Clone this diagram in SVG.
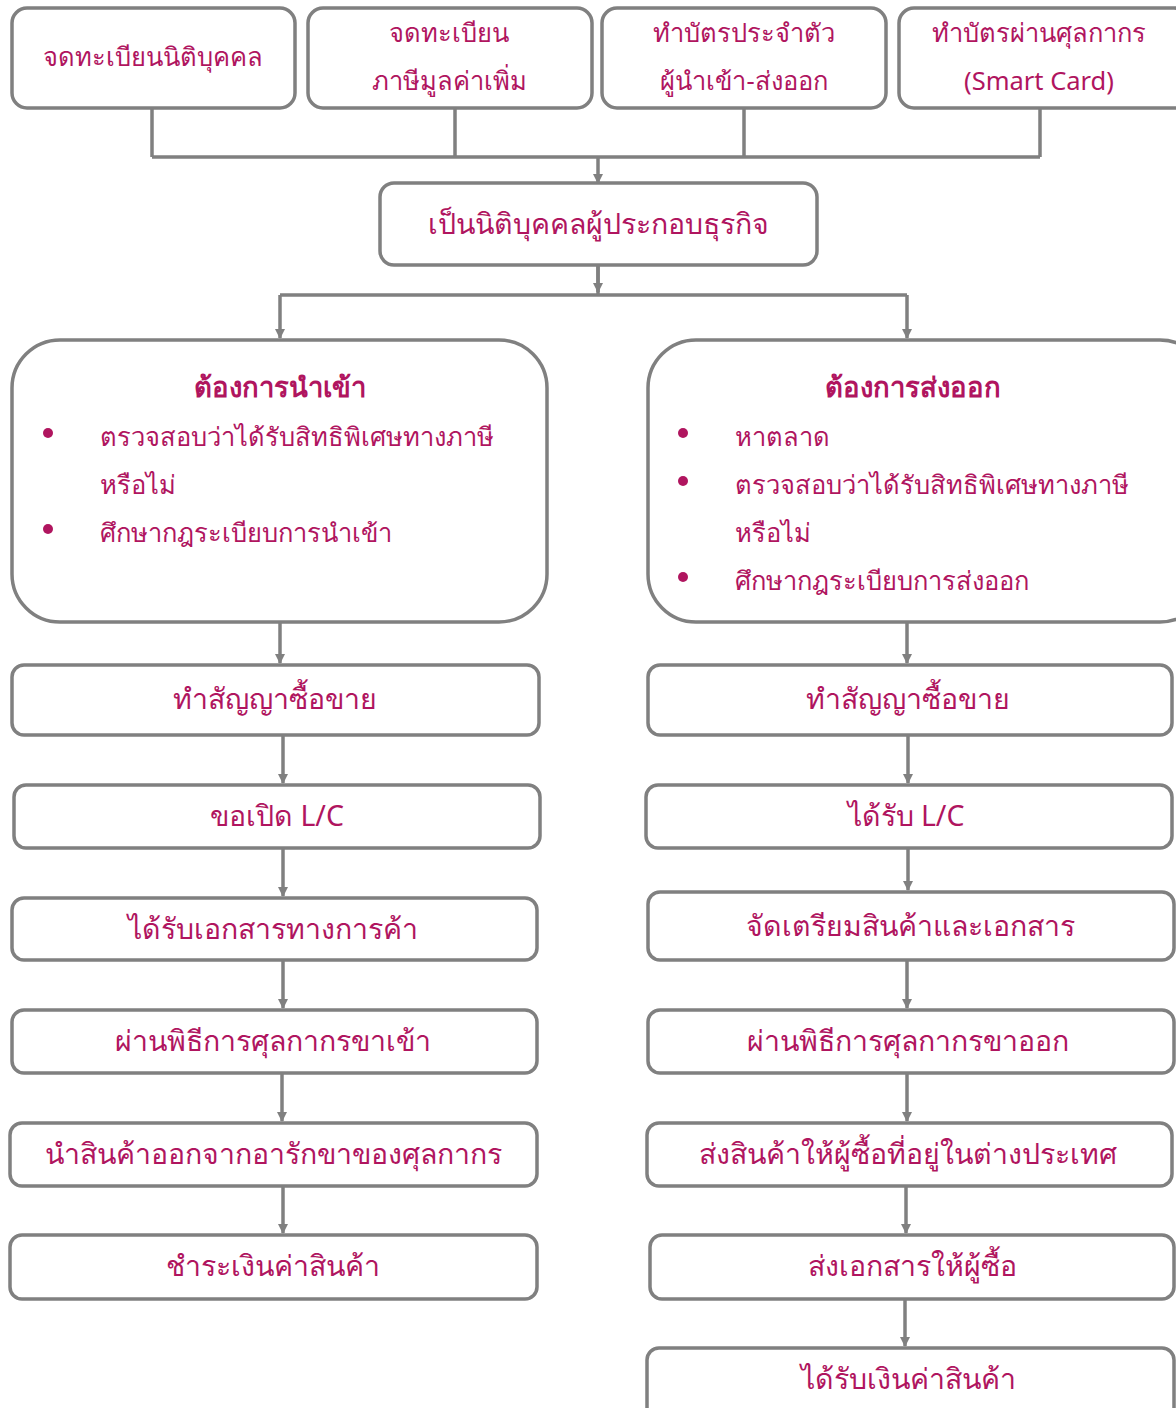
<svg xmlns="http://www.w3.org/2000/svg" width="1176" height="1408" viewBox="0 0 1176 1408">
<defs>
<marker id="ah" viewBox="0 0 10 10" refX="9" refY="5" markerWidth="10" markerHeight="10" markerUnits="userSpaceOnUse" orient="auto">
<path d="M0,0 L10,5 L0,10 Z" fill="#808080"/>
</marker>
<style>
.box{fill:#fff;stroke:#808080;stroke-width:3.5}
.t{font-family:"Noto Sans","Liberation Sans",sans-serif;font-size:28.5px;fill:#B0155F;text-anchor:middle}
.s{font-size:25.5px}
.l{font-family:"Noto Sans","Liberation Sans",sans-serif;font-size:25.5px;fill:#B0155F}
.h{font-family:"Noto Sans","Liberation Sans",sans-serif;font-size:27.5px;font-weight:bold;fill:#B0155F;text-anchor:middle}
.c{fill:none;stroke:#808080;stroke-width:3.5}
.a{fill:none;stroke:#808080;stroke-width:3.5;marker-end:url(#ah)}
.dot{fill:#B0155F}
</style>
</defs>
<rect width="1176" height="1408" fill="#fff"/>
<g id="connectors">
<path class="c" d="M152,108 V157 M455,108 V157 M744,108 V157 M1040,108 V157 M152,157 H1040"/>
<path class="a" d="M598,157 V183"/>
<path class="c" d="M598,265 V295 M280,295 H907"/>
<path class="a" d="M598,265 V292"/>
<path class="a" d="M280,295 V338"/>
<path class="a" d="M907,295 V338"/>
<path class="a" d="M280,622 V663"/>
<path class="a" d="M907,622 V663"/>
<path class="a" d="M283,735 V783"/>
<path class="a" d="M283,848 V896"/>
<path class="a" d="M283,960 V1008"/>
<path class="a" d="M282,1073 V1121"/>
<path class="a" d="M283,1186 V1233"/>
<path class="a" d="M908,735 V783"/>
<path class="a" d="M908,848 V890"/>
<path class="a" d="M907,960 V1008"/>
<path class="a" d="M907,1073 V1121"/>
<path class="a" d="M906,1186 V1233"/>
<path class="a" d="M905,1299 V1346"/>
</g>
<g id="n1"><rect class="box" x="12" y="8" width="283" height="100" rx="15"/><text class="t s" x="153" y="66">จดทะเบียนนิติบุคคล</text></g>
<g id="n2"><rect class="box" x="308" y="8" width="284" height="100" rx="15"/><text class="t s" x="449" y="42">จดทะเบียน</text><text class="t s" x="449" y="90">ภาษีมูลค่าเพิ่ม</text></g>
<g id="n3"><rect class="box" x="602" y="8" width="284" height="100" rx="15"/><text class="t s" x="744" y="42">ทำบัตรประจำตัว</text><text class="t s" x="744" y="90">ผู้นำเข้า-ส่งออก</text></g>
<g id="n4"><rect class="box" x="899" y="8" width="290" height="100" rx="15"/><text class="t s" x="1039" y="42">ทำบัตรผ่านศุลกากร</text><text class="t s" x="1039" y="90">(Smart Card)</text></g>
<g id="n5"><rect class="box" x="380" y="183" width="437" height="82" rx="14"/><text class="t" x="598" y="234">เป็นนิติบุคคลผู้ประกอบธุรกิจ</text></g>
<g id="n6"><rect class="box" x="12" y="340" width="535" height="282" rx="48"/>
<text class="h" x="280" y="397">ต้องการนำเข้า</text>
<circle class="dot" cx="48" cy="433" r="5"/><text class="l" x="100" y="446">ตรวจสอบว่าได้รับสิทธิพิเศษทางภาษี</text>
<text class="l" x="100" y="494">หรือไม่</text>
<circle class="dot" cx="48" cy="529" r="5"/><text class="l" x="100" y="542">ศึกษากฎระเบียบการนำเข้า</text></g>
<g id="n7"><rect class="box" x="648" y="340" width="560" height="282" rx="48"/>
<text class="h" x="913" y="397">ต้องการส่งออก</text>
<circle class="dot" cx="683" cy="433" r="5"/><text class="l" x="735" y="446">หาตลาด</text>
<circle class="dot" cx="683" cy="481" r="5"/><text class="l" x="735" y="494">ตรวจสอบว่าได้รับสิทธิพิเศษทางภาษี</text>
<text class="l" x="735" y="542">หรือไม่</text>
<circle class="dot" cx="683" cy="577" r="5"/><text class="l" x="735" y="590">ศึกษากฎระเบียบการส่งออก</text></g>
<g id="i1"><rect class="box" x="12" y="665" width="527" height="70" rx="12"/><text class="t" x="275" y="709">ทำสัญญาซื้อขาย</text></g>
<g id="i2"><rect class="box" x="14" y="785" width="526" height="63" rx="12"/><text class="t" x="277" y="826">ขอเปิด L/C</text></g>
<g id="i3"><rect class="box" x="12" y="898" width="525" height="62" rx="12"/><text class="t" x="273" y="939">ได้รับเอกสารทางการค้า</text></g>
<g id="i4"><rect class="box" x="12" y="1010" width="525" height="63" rx="12"/><text class="t" x="273" y="1051">ผ่านพิธีการศุลกากรขาเข้า</text></g>
<g id="i5"><rect class="box" x="10" y="1123" width="527" height="63" rx="12"/><text class="t" x="273" y="1164">นำสินค้าออกจากอารักขาของศุลกากร</text></g>
<g id="i6"><rect class="box" x="10" y="1235" width="527" height="64" rx="12"/><text class="t" x="273" y="1276">ชำระเงินค่าสินค้า</text></g>
<g id="e1"><rect class="box" x="648" y="665" width="524" height="70" rx="12"/><text class="t" x="908" y="709">ทำสัญญาซื้อขาย</text></g>
<g id="e2"><rect class="box" x="646" y="785" width="526" height="63" rx="12"/><text class="t" x="906" y="826">ได้รับ L/C</text></g>
<g id="e3"><rect class="box" x="648" y="892" width="526" height="68" rx="12"/><text class="t" x="910" y="936">จัดเตรียมสินค้าและเอกสาร</text></g>
<g id="e4"><rect class="box" x="648" y="1010" width="526" height="63" rx="12"/><text class="t" x="908" y="1051">ผ่านพิธีการศุลกากรขาออก</text></g>
<g id="e5"><rect class="box" x="647" y="1123" width="525" height="63" rx="12"/><text class="t" x="908" y="1164">ส่งสินค้าให้ผู้ซื้อที่อยู่ในต่างประเทศ</text></g>
<g id="e6"><rect class="box" x="650" y="1235" width="524" height="64" rx="12"/><text class="t" x="912" y="1276">ส่งเอกสารให้ผู้ซื้อ</text></g>
<g id="e7"><rect class="box" x="647" y="1348" width="527" height="80" rx="12"/><text class="t" x="908" y="1389">ได้รับเงินค่าสินค้า</text></g>
</svg>
